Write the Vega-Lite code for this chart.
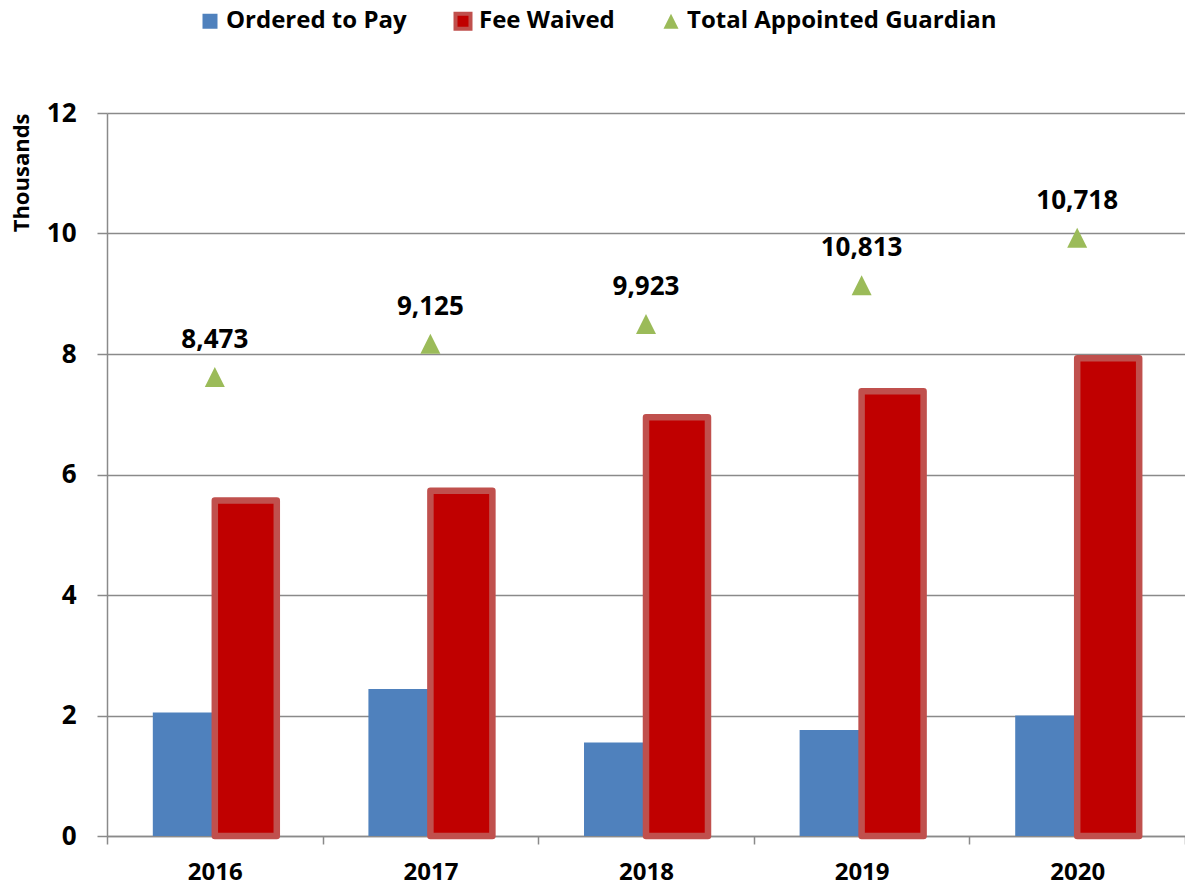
{
  "$schema": "https://vega.github.io/schema/vega-lite/v6.json",
  "width": 1078,
  "height": 723,
  "autosize": {"type": "none"},
  "padding": {"left": 107, "top": 113, "right": 0, "bottom": 50},
  "background": "white",
  "config": {
    "font": "Open Sans",
    "view": {"stroke": null},
    "legend": {
      "orient": "none",
      "legendX": 91,
      "legendY": -104,
      "direction": "horizontal",
      "labelFont": "Open Sans",
      "labelFontSize": 24,
      "labelFontWeight": "bold",
      "labelColor": "#000000",
      "labelLimit": 0,
      "symbolSize": 225,
      "labelOffset": 4,
      "columnPadding": 40,
      "padding": 0
    }
  },
  "datasets": {
    "bars": [
      {"year": "2016", "series": "Ordered to Pay", "value": 2.05},
      {"year": "2016", "series": "Fee Waived", "value": 5.57},
      {"year": "2017", "series": "Ordered to Pay", "value": 2.44},
      {"year": "2017", "series": "Fee Waived", "value": 5.73},
      {"year": "2018", "series": "Ordered to Pay", "value": 1.55},
      {"year": "2018", "series": "Fee Waived", "value": 6.95},
      {"year": "2019", "series": "Ordered to Pay", "value": 1.76},
      {"year": "2019", "series": "Fee Waived", "value": 7.38},
      {"year": "2020", "series": "Ordered to Pay", "value": 2.0},
      {"year": "2020", "series": "Fee Waived", "value": 7.93}
    ],
    "totals": [
      {"year": "2016", "series": "Total Appointed Guardian", "total": 7.62, "label": "8,473"},
      {"year": "2017", "series": "Total Appointed Guardian", "total": 8.17, "label": "9,125"},
      {"year": "2018", "series": "Total Appointed Guardian", "total": 8.5, "label": "9,923"},
      {"year": "2019", "series": "Total Appointed Guardian", "total": 9.14, "label": "10,813"},
      {"year": "2020", "series": "Total Appointed Guardian", "total": 9.93, "label": "10,718"}
    ]
  },
  "layer": [
    {
      "data": {"name": "bars"},
      "mark": {"type": "bar", "strokeJoin": "round"},
      "encoding": {
        "x": {
          "field": "year",
          "type": "nominal",
          "scale": {"paddingInner": 0, "paddingOuter": 0},
          "axis": {
            "title": null,
            "labelAngle": 0,
            "tickBand": "extent",
            "labelFont": "Open Sans",
            "labelFontSize": 24,
            "labelFontWeight": "bold",
            "labelColor": "#000000",
            "labelPadding": 16,
            "tickSize": 8,
            "tickColor": "#8a8a8a",
            "tickWidth": 1.5,
            "domainColor": "#8a8a8a",
            "domainWidth": 1.5,
            "grid": false
          }
        },
        "xOffset": {
          "field": "series",
          "type": "nominal",
          "scale": {"domain": ["Ordered to Pay", "Fee Waived"], "paddingInner": 0, "paddingOuter": 0.739}
        },
        "y": {
          "field": "value",
          "type": "quantitative",
          "scale": {"domain": [0, 12], "nice": false},
          "axis": {
            "values": [0, 2, 4, 6, 8, 10, 12],
            "format": "d",
            "title": "Thousands",
            "titleFont": "Open Sans",
            "titleFontSize": 22,
            "titleFontWeight": "bold",
            "titleColor": "#000000",
            "titleAnchor": "end",
            "titlePadding": 13,
            "labelFont": "Open Sans",
            "labelFontSize": 26,
            "labelFontWeight": "bold",
            "labelColor": "#000000",
            "labelPadding": 21,
            "tickSize": 10,
            "tickColor": "#8a8a8a",
            "tickWidth": 1.5,
            "domainColor": "#8a8a8a",
            "domainWidth": 1.5,
            "grid": true,
            "gridColor": "#8a8a8a",
            "gridWidth": 1.5
          }
        },
        "color": {
          "field": "series",
          "type": "nominal",
          "scale": {
            "domain": ["Ordered to Pay", "Fee Waived", "Total Appointed Guardian"],
            "range": ["#4f81bd", "#c00000", "#9bbb59"]
          },
          "legend": {
            "title": null,
            "symbolStrokeColor": {"expr": "datum.value === 'Fee Waived' ? '#c0504d' : 'transparent'"},
            "symbolStrokeWidth": 4
          }
        },
        "stroke": {"condition": {"test": "datum.series === 'Fee Waived'", "value": "#c0504d"}, "value": null},
        "strokeWidth": {"condition": {"test": "datum.series === 'Fee Waived'", "value": 6.5}, "value": 0}
      }
    },
    {
      "data": {"name": "totals"},
      "mark": {"type": "point", "filled": true, "size": 400, "opacity": 1},
      "encoding": {
        "x": {"field": "year", "type": "nominal"},
        "y": {"field": "total", "type": "quantitative"},
        "color": {
          "field": "series",
          "type": "nominal",
          "scale": {
            "domain": ["Ordered to Pay", "Fee Waived", "Total Appointed Guardian"],
            "range": ["#4f81bd", "#c00000", "#9bbb59"]
          },
          "legend": {"title": null}
        },
        "shape": {
          "field": "series",
          "type": "nominal",
          "scale": {
            "domain": ["Ordered to Pay", "Fee Waived", "Total Appointed Guardian"],
            "range": ["square", "square", "M0,-1L1,1L-1,1Z"]
          },
          "legend": {"title": null}
        }
      }
    },
    {
      "data": {"name": "totals"},
      "mark": {"type": "text", "dy": -29, "baseline": "alphabetic", "align": "center", "font": "Open Sans", "fontSize": 26, "fontWeight": "bold", "color": "#000000"},
      "encoding": {
        "x": {"field": "year", "type": "nominal"},
        "y": {"field": "total", "type": "quantitative"},
        "text": {"field": "label", "type": "nominal"}
      }
    }
  ]
}
